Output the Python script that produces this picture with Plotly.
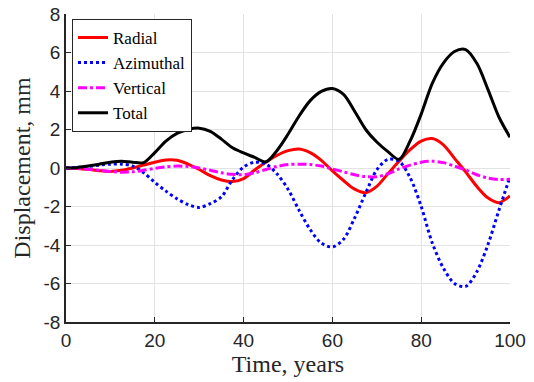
import plotly.graph_objects as go

time_years = [0, 2.5, 5, 7.5, 10, 12.5, 15, 17.5, 20, 22.5, 25, 27.5, 30, 32.5, 35, 37.5,
              40, 42.5, 45, 47.5, 50, 52.5, 55, 57.5, 60, 62.5, 65, 67.5, 70, 72.5, 75,
              77.5, 80, 82.5, 85, 87.5, 90, 92.5, 95, 97.5, 100]

radial = [0, -0.02, -0.07, -0.14, -0.18, -0.12, 0.0, 0.15, 0.3, 0.42, 0.4, 0.2, -0.08,
          -0.4, -0.62, -0.7, -0.55, -0.1, 0.3, 0.65, 0.9, 0.99, 0.8, 0.4, -0.15, -0.65,
          -1.1, -1.28, -0.95, -0.3, 0.35, 0.95, 1.4, 1.53, 1.2, 0.5, -0.2, -0.95, -1.55,
          -1.8, -1.45]

azimuthal = [0, 0.03, 0.08, 0.15, 0.2, 0.2, 0.1, -0.25, -0.75, -1.2, -1.6, -1.9, -2.05,
             -1.85, -1.5, -0.6, 0.05, 0.3, 0.2, -0.3, -1.1, -2.2, -3.2, -3.9, -4.1, -3.7,
             -2.6, -1.3, -0.1, 0.45, 0.35, -0.5, -2.0, -3.9, -5.2, -6.0, -6.15, -5.4, -4.0,
             -2.2, -0.45]

vertical = [0, -0.02, -0.06, -0.12, -0.18, -0.22, -0.2, -0.12, -0.02, 0.06, 0.1, 0.08, 0.0,
            -0.12, -0.25, -0.33, -0.35, -0.25, -0.08, 0.08, 0.18, 0.2, 0.18, 0.1, -0.05,
            -0.2, -0.35, -0.45, -0.45, -0.3, -0.05, 0.15, 0.3, 0.35, 0.28, 0.1, -0.1,
            -0.35, -0.52, -0.6, -0.58]

total = [0, 0.03, 0.1, 0.2, 0.3, 0.35, 0.3, 0.28, 0.8, 1.4, 1.8, 2.0, 2.07, 1.9, 1.5,
         1.05, 0.78, 0.55, 0.32, 0.9, 1.75, 2.7, 3.5, 3.98, 4.13, 3.82, 2.95, 2.0, 1.35,
         0.85, 0.45, 1.4, 2.8, 4.4, 5.45, 6.05, 6.15, 5.45, 4.1, 2.65, 1.6]

x_ticks = [0, 20, 40, 60, 80, 100]
x_tick_labels = ["0", "20", "40", "60", "80", "100"]
y_ticks = [-8, -6, -4, -2, 0, 2, 4, 6, 8]
y_tick_labels = ["-8", "-6", "-4", "-2", "0", "2", "4", "6", "8"]

series = [
    ("Radial", radial, "#ff0000", "solid"),
    ("Azimuthal", azimuthal, "#0000ff", "dot"),
    ("Vertical", vertical, "#ff00ff", "dashdot"),
    ("Total", total, "#000000", "solid"),
]

fig = go.Figure()
for name, vals, color, dash in series:
    fig.add_trace(go.Scatter(
        x=time_years, y=vals, name=name, mode="lines",
        line=dict(color=color, width=3, dash=dash, shape="spline", smoothing=0.9),
    ))

serif = "Liberation Serif, Times New Roman, serif"
sans = "Liberation Sans, Arial, sans-serif"
axis_common = dict(
    showgrid=True, gridcolor="#e3e3e3", gridwidth=1,
    zeroline=False, showline=True, linecolor="#262626", linewidth=1.5,
    ticks="inside", ticklen=5, tickcolor="#262626", tickwidth=1,
    tickfont=dict(family=sans, size=19, color="#262626"),
    mirror=False, automargin=False,
)

fig.update_layout(
    width=534, height=382,
    margin=dict(l=66, r=24, t=14, b=60),
    paper_bgcolor="white", plot_bgcolor="white",
    xaxis=dict(range=[0, 100], tickvals=x_ticks, ticktext=x_tick_labels,
               title=dict(text="Time, years", font=dict(family=serif, size=24, color="#262626"),
                          standoff=4),
               **axis_common),
    yaxis=dict(range=[-8, 8], tickvals=y_ticks, ticktext=y_tick_labels,
               title=dict(text="Displacement, mm", font=dict(family=serif, size=24, color="#262626"),
                          standoff=6),
               **axis_common),
    legend=dict(x=0.0135, y=0.984, xanchor="left", yanchor="top",
                bgcolor="white", bordercolor="#262626", borderwidth=1,
                font=dict(family=serif, size=17, color="#000000"),
                tracegroupgap=0, itemwidth=30),
    showlegend=True,
)

fig.write_html("out.html", config={"displayModeBar": False},
               post_script="document.body.style.margin='0';document.body.style.overflow='hidden';")
